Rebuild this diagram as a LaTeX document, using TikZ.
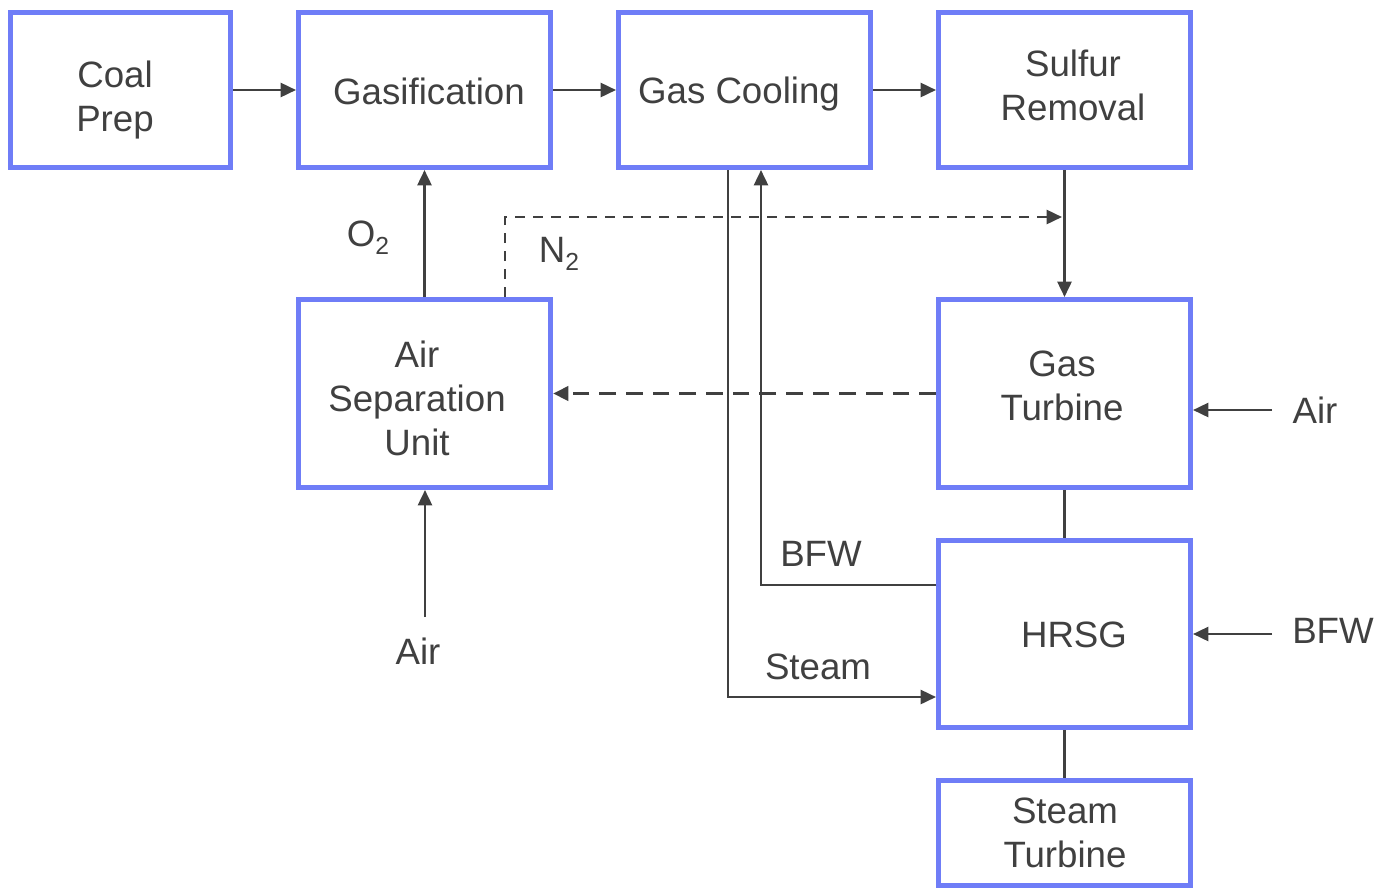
\documentclass[tikz,border=0pt]{standalone}
\usepackage{fontspec}
\setmainfont{Liberation Sans}
\usetikzlibrary{arrows.meta}
\definecolor{boxblue}{RGB}{111,125,247}
\definecolor{ink}{RGB}{64,64,64}
\newcommand{\subtwo}{\raisebox{-6pt}{\fontsize{18.5}{18.5}\selectfont 2}}
\begin{document}
\begin{tikzpicture}[x=0.75pt,y=-0.75pt,
  unitbox/.style={draw=boxblue,line width=3.75pt,minimum width=189pt,minimum height=116.25pt,inner sep=0pt,fill=white},
  boxtxt/.style={text=ink,font=\fontsize{27.5}{33}\selectfont,align=center,inner sep=0pt},
  lbl/.style={text=ink,font=\fontsize{27.5}{33}\selectfont,inner sep=0pt},
  arr/.style={draw=ink,line width=1.9pt,-{Triangle[length=11.5pt,width=10.5pt]}},
  plain/.style={draw=ink,line width=1.9pt},
  thindash/.style={draw=ink,line width=1.9pt,dash pattern=on 7.5pt off 6pt,-{Triangle[length=11.5pt,width=10.5pt]}},
  thickdash/.style={draw=ink,line width=2.8pt,dash pattern=on 12.5pt off 7.5pt,-{Triangle[length=11.5pt,width=10.5pt]}}
]
\useasboundingbox (0,0) rectangle (1377,890);
% boxes
\node[unitbox,minimum width=165pt] (coal) at (120.5,90) {};
\node[unitbox] (gasif) at (424.5,90) {};
\node[unitbox] (cool) at (744.5,90) {};
\node[unitbox] (sulf) at (1064.5,90) {};
\node[unitbox,minimum height=141pt] (asu) at (424.5,393.5) {};
\node[unitbox,minimum height=141pt] (gt) at (1064.5,393.5) {};
\node[unitbox,minimum height=140.25pt] (hrsg) at (1064.5,634) {};
\node[unitbox,minimum height=78.75pt] (st) at (1064.5,833) {};
% box texts
\node[boxtxt] (coalt) at (115,100) {Coal\\Prep};
\node[boxtxt] (gasift) at (429,91) {Gasification};
\node[boxtxt] (coolt) at (739,94) {Gas Cooling};
\node[boxtxt] (sulft) at (1073,85) {Sulfur\\Removal};
\node[boxtxt] (asut) at (417,398) {Air\\Separation\\Unit};
\node[boxtxt] (gtt) at (1062,386) {Gas\\Turbine};
\node[boxtxt] (hrsgt) at (1074,635) {HRSG};
\node[boxtxt] (stt) at (1065,833) {Steam\\Turbine};
% coordinates
\coordinate (n2a) at (505,217);
\coordinate (n2end) at (1062,217);
\coordinate (stc) at (728,697);
\coordinate (bfwc) at (761,585);
\coordinate (airgt) at (1272,410);
\coordinate (bfwh) at (1272,634);
\coordinate (airasu) at (425,617);
% connectors
\draw[arr] (coal) -- (gasif);
\draw[arr] (gasif) -- (cool);
\draw[arr] (cool) -- (sulf);
\draw[arr] (asu) -- (gasif);
\draw[thindash] (asu.north -| n2a) -- (n2a) -- (n2end);
\draw[arr] (sulf) -- (gt);
\draw[thickdash] (gt) -- (asu);
\draw[arr] (cool.south -| stc) -- (stc) -- (hrsg.west |- stc);
\draw[arr] (hrsg.west |- bfwc) -- (bfwc) -- (cool.south -| bfwc);
\draw[plain] (gt) -- (hrsg);
\draw[plain] (hrsg) -- (st);
\draw[arr] (airgt) -- (gt.east |- airgt);
\draw[arr] (bfwh) -- (hrsg.east |- bfwh);
\draw[arr] (airasu) -- (asu.south -| airasu);
% labels
\node[lbl] (o2) at (368,238) {O\subtwo};
\node[lbl] (n2) at (559,254) {N\subtwo};
\node[lbl] (steam) at (818,667) {Steam};
\node[lbl] (bfwl) at (821,554) {BFW};
\node[lbl] (airr) at (1315,410) {Air};
\node[lbl] (bfwr) at (1333,631) {BFW};
\node[lbl] (airb) at (418,651) {Air};
\end{tikzpicture}
\end{document}
